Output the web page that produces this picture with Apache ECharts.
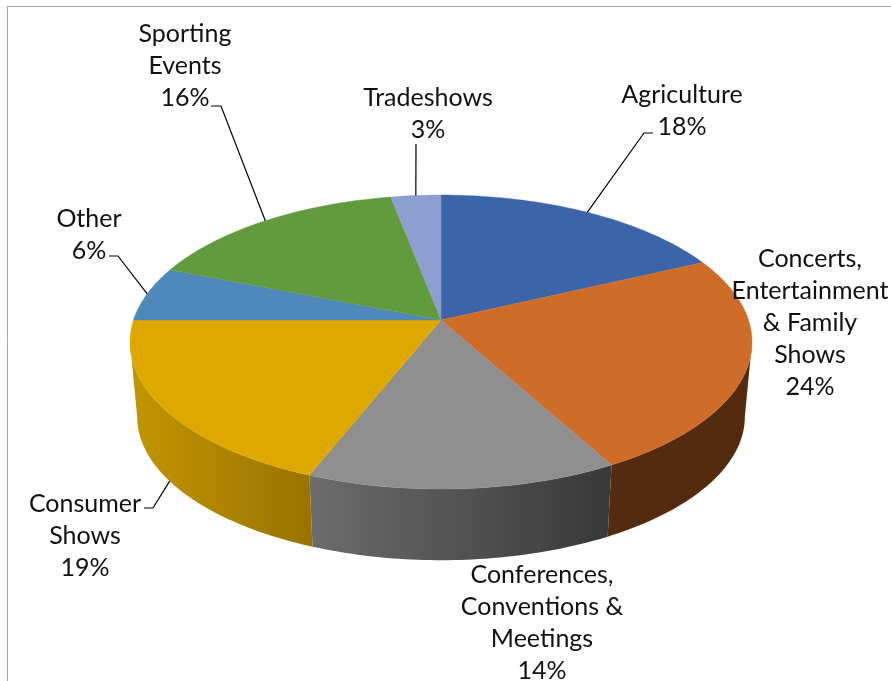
<!DOCTYPE html>
<html>
<head>
<meta charset="utf-8">
<style>html,body{margin:0;padding:0;background:#fff}#chart{width:891px;height:681px}</style>
<script src="https://cdn.jsdelivr.net/npm/echarts@6/dist/echarts.min.js"></script>
</head>
<body>
<div id="chart"></div>
<script>
// Venue event mix, drawn as a tilted 3D pie.
const categories = ['Agriculture', 'Concerts,\nEntertainment\n& Family\nShows', 'Conferences,\nConventions &\nMeetings', 'Consumer\nShows', 'Other', 'Sporting\nEvents', 'Tradeshows'];
const shares = [18, 24, 14, 19, 6, 16, 3];

const topColors = ['#3b64ab', '#ce6c28', '#8f8f8f', '#dfa800', '#4f88bb', '#629a3e', '#8c9fd0'];
// Wall shading, left to right across each visible wall.
const wallLeft = ['#2a4a80', '#552b10', '#6c6c6c', '#c39500', '#3a6590', '#4a7430', '#6a7aa0'];
const wallRight = ['#2a4a80', '#552b10', '#383838', '#997300', '#3a6590', '#4a7430', '#6a7aa0'];

// Label block centres and leader elbows, in the same order as categories.
const labelCentres = [[682, 111], [810, 323], [542, 623], [85, 536], [89, 235], [185, 66], [428, 114]];
const leaderElbows = [[[644, 133], [653, 133]], null, null, [[153, 508], [144, 508]], [[118, 256], [109, 256]], [[221, 106], [211, 106]], [[416, 144]]];

// Projection of the pie disc: apex position, scales and perspective strength.
const apex = [441, 320];
const scaleX = 307.5, scaleY = 143.7, perspective = 0.15;
const baseDrop = 75, baseShrink = 0.977;
const visibleFrom = 98.6, visibleTo = 261.4;

function rimPoint(deg, lower) {
  const t = deg * Math.PI / 180;
  const u = Math.sin(t), v = -Math.cos(t);
  const d = 1 - perspective * v;
  const x = scaleX * u / d, y = scaleY * v / d;
  return lower
    ? [apex[0] + x * baseShrink, apex[1] + baseDrop + y * baseShrink]
    : [apex[0] + x, apex[1] + y];
}

function arc(from, to, lower) {
  const pts = [];
  const n = Math.max(2, Math.ceil(Math.abs(to - from)));
  for (let i = 0; i <= n; i++) pts.push(rimPoint(from + (to - from) * i / n, lower));
  return pts;
}

const total = shares.reduce((a, b) => a + b, 0);
const startAngles = [];
shares.reduce((acc, s, i) => { startAngles[i] = acc / total * 360; return acc + s; }, 0);

function renderSlice(params, api) {
  const i = params.dataIndex;
  const value = api.value(0);
  const start = startAngles[i];
  const end = start + value / total * 360;
  const children = [];

  // Outer wall: only the part of the rim facing the viewer.
  const a = Math.max(start, visibleFrom), b = Math.min(end, visibleTo);
  if (b > a) {
    children.push({
      type: 'polygon',
      shape: { points: arc(a, b, false).concat(arc(b, a, true)) },
      style: {
        fill: {
          type: 'linear', x: 0, y: 0, x2: 1, y2: 0,
          colorStops: [{ offset: 0, color: wallLeft[i] }, { offset: 1, color: wallRight[i] }]
        }
      }
    });
  }

  // Top face of the slice.
  children.push({
    type: 'polygon',
    shape: { points: [apex].concat(arc(start, end, false)) },
    style: { fill: topColors[i], stroke: topColors[i], lineWidth: 0.4 }
  });

  // Leader line from the rim to the label.
  const elbows = leaderElbows[i];
  if (elbows) {
    const mid = (start + end) / 2;
    const front = mid > visibleFrom && mid < visibleTo;
    children.push({
      type: 'polyline',
      shape: { points: [rimPoint(mid, front)].concat(elbows) },
      style: { fill: null, stroke: '#000', lineWidth: 1.2 },
      z2: 5
    });
  }

  // Category name and share.
  children.push({
    type: 'text',
    x: labelCentres[i][0],
    y: labelCentres[i][1],
    style: {
      text: categories[i] + '\n' + value + '%',
      fontFamily: 'Lato, sans-serif',
      fontSize: 25,
      lineHeight: 32,
      fill: '#111',
      align: 'center',
      verticalAlign: 'middle'
    },
    z2: 10
  });
  return { type: 'group', children: children };
}

const chart = echarts.init(document.getElementById('chart'));
chart.setOption({
  backgroundColor: '#ffffff',
  animation: false,
  graphic: [{
    type: 'polyline',
    shape: { points: [[7.5, 681], [7.5, 6.5], [891, 6.5]] },
    style: { fill: null, stroke: '#a6a6a6', lineWidth: 1 },
    silent: true
  }],
  series: [{
    type: 'custom',
    coordinateSystem: 'none',
    renderItem: renderSlice,
    data: shares.map(s => [s]),
    encode: { value: 0 }
  }]
});
</script>
</body>
</html>
